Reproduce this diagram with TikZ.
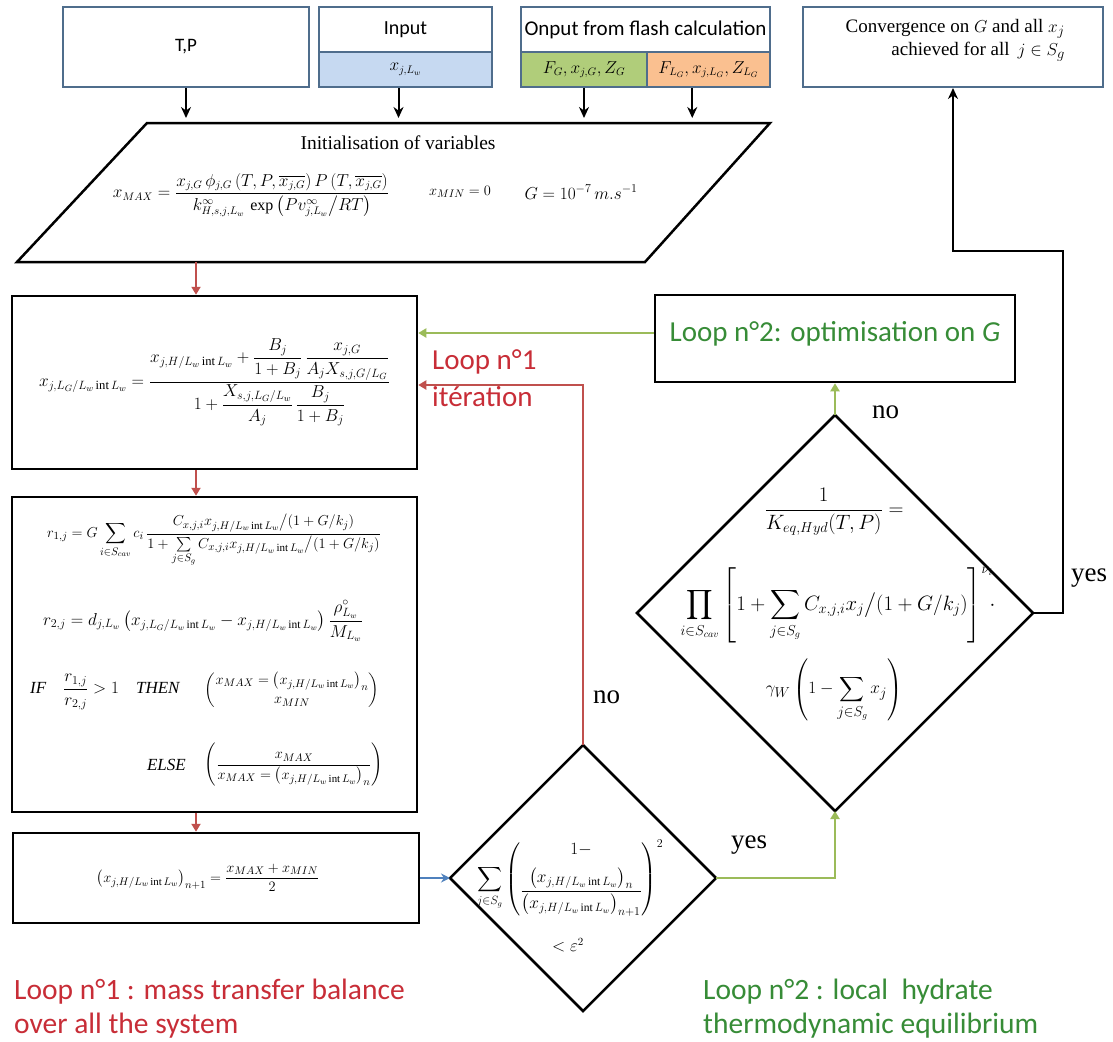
\documentclass[tikz,border=0pt]{standalone}
\usepackage{amsmath}
\usepackage{fontspec}
\setmainfont{Liberation Serif}
\newfontfamily\calfont{Carlito}
\usetikzlibrary{arrows.meta,calc}
\definecolor{boxblue}{RGB}{79,109,140}
\definecolor{fillblue}{RGB}{198,217,241}
\definecolor{fillgreen}{RGB}{176,205,122}
\definecolor{fillorange}{RGB}{250,192,144}
\definecolor{lred}{RGB}{192,80,77}
\definecolor{lgreen}{RGB}{155,187,89}
\definecolor{lblue}{RGB}{79,129,189}
\definecolor{tred}{RGB}{200,45,55}
\definecolor{tgreen}{RGB}{55,140,55}
\newcommand{\myxH}{x_{j,H/L_w\,\mathrm{int}\,L_w}}
\newcommand{\myxL}{x_{j,L_G/L_w\,\mathrm{int}\,L_w}}
\newcommand{\myfs}[1]{\fontsize{#1}{#1}\selectfont}
\begin{document}
\begin{tikzpicture}[x=1pt,y=-1pt,
  topbox/.style={draw=boxblue, line width=2pt, inner sep=0pt},
  mainbox/.style={draw=black, line width=2.5pt, inner sep=0pt},
  mainline/.style={draw=black, line width=2.5pt, line join=miter},
  lab/.style={inner sep=0pt},
  blkarr/.style={draw=black, line width=2pt, -{Stealth[length=11pt,width=10pt]}},
  redarr/.style={draw=lred, line width=2.2pt, -{Triangle[length=8pt,width=9pt]}},
  greenarr/.style={draw=lgreen, line width=2.2pt, -{Triangle[length=8pt,width=9pt]}},
  bluearr/.style={draw=lblue, line width=2pt, -{Stealth[length=9pt,width=9pt]}},
  calib/.style={font=\calfont\myfs{#1}},
  serif/.style={font=\myfs{#1}}
]
\fill[white] (0,0) rectangle (1113,1041);
\useasboundingbox (0,0) rectangle (1113,1041);

% ---- top row
\node[topbox, minimum width=246pt, minimum height=80pt, calib=19] (tp) at (186,47) {T,P};
\node[topbox, minimum width=173pt, minimum height=45pt, calib=20] (inT) at (405.5,29.5) {Input};
\node[topbox, fill=fillblue, minimum width=173pt, minimum height=35pt, serif=16] (inB) at (405.5,69.5) {$x_{j,L_w}$};
\node[topbox, minimum width=249pt, minimum height=45pt, calib=21] (flT) at (645.5,29.5) {Onput from flash calculation};
\node[topbox, fill=fillgreen, minimum width=126pt, minimum height=35pt, serif=16] (flG) at (584,69.5) {$F_G,x_{j,G},Z_G$};
\node[topbox, fill=fillorange, minimum width=123pt, minimum height=35pt, serif=16] (flO) at (708.5,69.5) {$F_{L_G},x_{j,L_G},Z_{L_G}$};
\node[topbox, minimum width=300pt, minimum height=80pt] (conv) at (953,47) {};
\node[lab, serif=19, align=right, anchor=east] (convt) at (1065,40) {Convergence on $G$ and all $x_j$\\[3pt]achieved for all\, $j\in S_g$};

% ---- parallelogram
\coordinate (p1) at (147,123);
\coordinate (p2) at (770,123);
\coordinate (p3) at (645,262);
\coordinate (p4) at (17,262);
\draw[mainline] (p1) -- (p2) -- (p3) -- (p4) -- cycle;
\node[lab, serif=19.5] (initT) at (398,143) {Initialisation of variables};
\node[lab, serif=16] (initF) at (251,195) {$x_{MAX}=\dfrac{x_{j,G}\,\phi_{j,G}\left(T,P,\overline{x_{j,G}}\right)P\left(T,\overline{x_{j,G}}\right)}{k^{\infty}_{H,s,j,L_w}\,\exp\left(Pv^{\infty}_{j,L_w}\big/RT\right)}$};
\node[lab, serif=15] (xmin) at (460,192) {$x_{MIN}=0$};
\node[lab, serif=17] (g0) at (581,192) {$G=10^{-7}\,m.s^{-1}$};

\coordinate (ia) at ($(inB.south west)!0.46!(inB.south east)$);
\coordinate (oa) at ($(flO.south west)!0.37!(flO.south east)$);
\draw[blkarr] (tp.south) -- (tp.south |- 0,118);
\draw[blkarr] (ia) -- (ia |- 0,118);
\draw[blkarr] (flG.south) -- (flG.south |- 0,118);
\draw[blkarr] (oa) -- (oa |- 0,118);

% ---- left column boxes
\coordinate (pb) at (196,262);
\node[mainbox, minimum width=405pt, minimum height=173pt, serif=18] (b1) at (214.5,382.5)
 {$\myxL=\dfrac{\myxH+\dfrac{B_j}{1+B_j}\,\dfrac{x_{j,G}}{A_jX_{s,j,G/L_G}}}{1+\dfrac{X_{s,j,L_G/L_w}}{A_j}\,\dfrac{B_j}{1+B_j}}$};
\node[mainbox, minimum width=405pt, minimum height=315pt] (b2) at (214.5,654.5) {};
\node[lab, serif=15.7] (r1) at (214,540) {$r_{1,j}=G\displaystyle\sum_{i\in S_{cav}}c_i\,\frac{C_{x,j,i}\myxH\big/(1+G/k_j)}{1+\sum\limits_{j\in S_g}C_{x,j,i}\myxH\big/(1+G/k_j)}$};
\node[lab, serif=16.5] (r2) at (203,621) {$r_{2,j}=d_{j,L_w}\left(\myxL-\myxH\right)\dfrac{\rho^{\circ}_{L_w}}{M_{L_w}}$};
\node[lab, serif=17, anchor=west] (ift) at (30,692) {$\mathit{IF}\quad\dfrac{r_{1,j}}{r_{2,j}}>1\quad\mathit{THEN}$};
\node[lab, serif=15.5] (ifp) at (292,690) {$\begin{pmatrix}x_{MAX}=\left(\myxH\right)_n\\[4pt] x_{MIN}\end{pmatrix}$};
\node[lab, serif=17, anchor=east] (elt) at (186,765) {$\mathit{ELSE}$};
\node[lab, serif=15.5] (elp) at (294,765) {$\left(\dfrac{x_{MAX}}{x_{MAX}=\left(\myxH\right)_n}\right)$};
\node[mainbox, minimum width=406pt, minimum height=90pt] (b3) at (216,878) {};
\node[lab, serif=15.5] (b3f) at (208,878) {$\left(\myxH\right)_{n+1}=\dfrac{x_{MAX}+x_{MIN}}{2}$};

\draw[redarr] (pb) -- (pb |- b1.north);
\draw[redarr] (pb |- b1.south) -- (pb |- b2.north);
\draw[redarr] (pb |- b2.south) -- (pb |- b3.north);

% ---- diamond 1
\coordinate (d1l) at (450,878);
\coordinate (d1t) at (583,745);
\coordinate (d1r) at (716,878);
\coordinate (d1b) at (583,1011);
\draw[mainline] (d1l) -- (d1t) -- (d1r) -- (d1b) -- cycle;
\node[lab, serif=16.5] (d1f) at (570,878) {$\displaystyle\sum_{j\in S_g}\left(\begin{matrix}1-\\[8pt]\dfrac{\left(\myxH\right)_n}{\left(\myxH\right)_{n+1}}\end{matrix}\right)^{2}$};
\node[lab, serif=16] (d1e) at (568,945) {$<\varepsilon^{2}$};
\draw[bluearr] (b3.east) -- (d1l);

% ---- diamond 2
\coordinate (d2l) at (637,613);
\coordinate (d2t) at (835,415);
\coordinate (d2r) at (1033,613);
\coordinate (d2b) at (835,811);
\draw[mainline] (d2l) -- (d2t) -- (d2r) -- (d2b) -- cycle;
\node[lab, serif=21] (d2a) at (834,512) {$\dfrac{1}{K_{eq,Hyd}(T,P)}=$};
\node[lab, serif=20] (d2p) at (838,605) {$\displaystyle\prod_{i\in S_{cav}}\left[1+\sum_{j\in S_g}C_{x,j,i}x_j\big/(1+G/k_j)\right]^{\nu_i}\!\!\cdot$};
\node[lab, serif=19] (d2g) at (834,690) {$\displaystyle\gamma_W\left(1-\sum_{j\in S_g}x_j\right)$};

% ---- loop 2 box
\node[mainbox, minimum width=360pt, minimum height=87pt] (l2) at (835,338.5) {};
\node[lab, calib=29, text=tgreen] (l2t) at (835,334) {Loop n°2: optimisation on \textit{G}};

% ---- connectors
\draw[greenarr] (d1r) -| (d2b);
\draw[greenarr] (d2t) -- (l2.south);
\draw[greenarr] (l2.west |- 0,333) -- (b1.east |- 0,333);
\draw[redarr] (d1t) |- (b1.east |- 0,385);
\coordinate (k1) at (1063,251);
\draw[blkarr] (d2r) -| (k1) -| (conv.south);

% ---- labels
\node[lab, calib=29, text=tred, anchor=west] (lp1a) at (432,362) {Loop n°1};
\node[lab, calib=29, text=tred, anchor=west] (lp1b) at (432,397) {itération};
\node[lab, serif=27, anchor=west] (no1) at (593,697) {no};
\node[lab, serif=27, anchor=west] (yes1) at (731,845) {yes};
\node[lab, serif=27, anchor=west] (no2) at (872,412) {no};
\node[lab, serif=27, anchor=west] (yes2) at (1071,578) {yes};
\node[lab, calib=29.5, text=tred, anchor=west] (bot1a) at (14,992) {Loop n°1 : mass transfer balance};
\node[lab, calib=29.5, text=tred, anchor=west] (bot1b) at (14,1026) {over all the system};
\node[lab, calib=29.5, text=tgreen, anchor=west] (bot2a) at (703,992) {Loop n°2 : local\ \ hydrate};
\node[lab, calib=29.5, text=tgreen, anchor=west] (bot2b) at (703,1026) {thermodynamic equilibrium};
\end{tikzpicture}
\end{document}
